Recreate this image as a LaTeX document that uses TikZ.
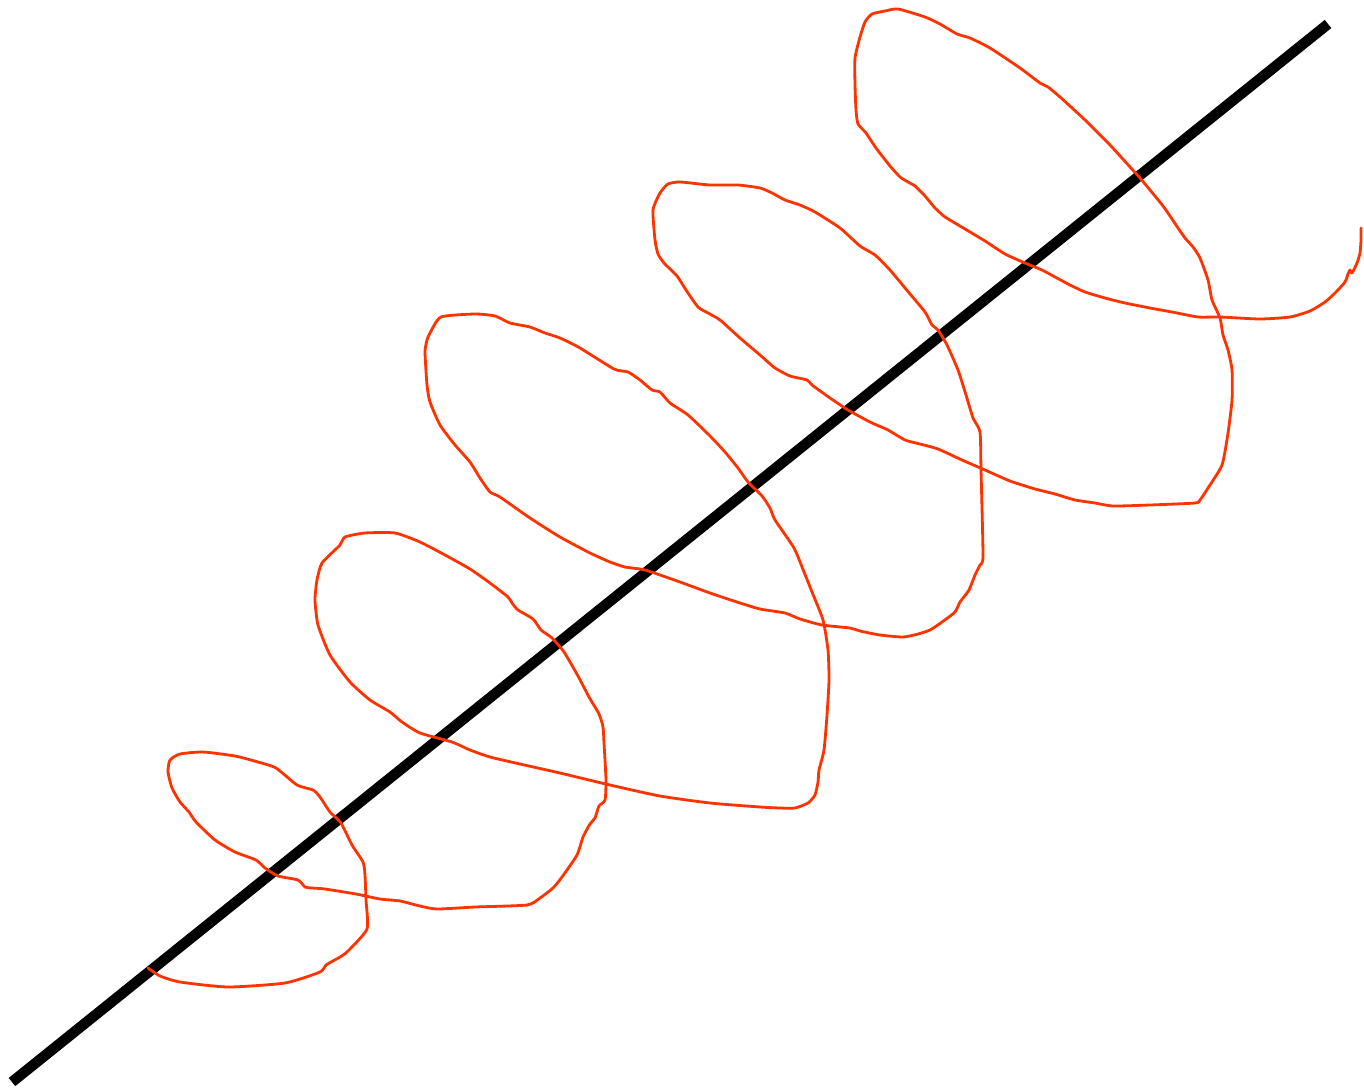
\documentclass[tikz,border=0pt]{standalone}
\definecolor{spiral}{HTML}{FF3300}
\begin{document}
\begin{tikzpicture}[x=1pt,y=-1pt,
  axisline/.style={line width=10.5pt,black},
  spiralline/.style={line width=2.8pt,spiral,line join=round,line cap=round}]
\useasboundingbox (0,0) rectangle (1364,1087);
\coordinate (a) at (12,1082);
\coordinate (b) at (1328,24);
\draw[axisline] (a) -- (b);
\draw[spiralline] plot[smooth,tension=0.35] coordinates {
(148,968) (160,976) (180,982) (228,987) (285,983) (320,972) (326,965) (340,957) (348,951) (367,929) (366,900) (365,875) (363,862) (352,845) (341,823) (330,812) (320,797) (313,790) (297,785) (276,768) (258,762) (235,756) (203,752) (180,754) (170,760) (168,772) (172,788) (180,802) (189,812) (196,822) (215,840) (235,852) (256,860) (265,868) (278,876) (298,880) (305,887) (312,888) (325,889) (356,894) (380,899) (400,901) (420,906) (437,909) (475,907) (527,905) (540,898) (553,888) (562,877) (577,855) (583,837) (590,824) (595,818) (599,806) (605,800) (606,780) (604,743) (603,727) (599,714) (589,697) (578,676) (564,652) (552,638) (541,630) (533,619) (518,610) (512,603) (508,597) (490,583) (470,569) (445,555) (420,542) (395,533) (365,533) (345,537) (340,545) (322,563) (317,580) (315,600) (318,625) (330,655) (350,682) (370,700) (390,712) (402,722) (420,733) (452,742) (470,750) (490,757) (520,764) (560,773) (610,785) (660,796) (710,803) (760,807) (780,808) (795,808) (808,803) (815,795) (818,782) (819,770) (824,750) (827,715) (829,680) (828,650) (823,620) (812,592) (804,572) (794,548) (775,520) (770,508) (762,496) (748,482) (738,468) (725,452) (710,436) (688,415) (670,403) (660,392) (652,390) (640,380) (628,372) (614,369) (580,348) (560,338) (545,333) (530,327) (510,323) (495,316) (475,314) (441,317) (430,333) (427,340) (425,352) (427,385) (430,402) (440,425) (455,445) (470,462) (480,478) (490,492) (500,497) (530,518) (560,537) (590,553) (610,562) (625,567) (645,570) (680,582) (710,593) (740,603) (760,609) (785,613) (800,619) (822,625) (850,628) (860,631) (880,635) (903,637) (918,634) (930,630) (942,622) (955,612) (960,602) (969,590) (975,575) (980,565) (983,556) (981,470) (980,432) (973,418) (966,395) (958,370) (947,345) (938,330) (932,325) (925,312) (905,288) (890,270) (875,255) (860,246) (840,228) (815,212) (800,205) (785,200) (772,193) (760,188) (738,185) (710,185) (680,182) (668,184) (660,193) (653,210) (655,240) (658,254) (664,263) (677,276) (686,290) (698,307) (708,313) (720,320) (740,338) (760,355) (775,368) (790,376) (807,380) (812,385) (830,398) (848,410) (870,422) (888,430) (905,440) (920,444) (938,449) (962,460) (985,470) (1010,481) (1035,489) (1055,494) (1075,500) (1095,503) (1113,506) (1150,505) (1195,503) (1200,500) (1208,488) (1222,465) (1228,433) (1232,400) (1232,370) (1228,350) (1223,335) (1220,318) (1212,300) (1208,280) (1200,258) (1193,247) (1185,238) (1178,228) (1163,206) (1140,178) (1130,167) (1110,145) (1085,120) (1060,97) (1048,87) (1040,83) (1020,68) (990,48) (970,38) (957,34) (940,24) (925,17) (898,9) (885,11) (872,14) (865,22) (860,37) (855,58) (855,85) (856,110) (858,124) (866,133) (876,148) (890,166) (900,177) (908,182) (915,186) (925,196) (935,208) (945,217) (960,226) (985,241) (1005,254) (1025,263) (1042,270) (1055,277) (1070,285) (1085,292) (1105,298) (1125,303) (1150,308) (1172,312) (1198,317) (1220,317) (1260,319) (1290,317) (1310,311) (1325,302) (1335,293) (1345,282) (1348,274) (1350,270) (1352,273) (1357,263) (1360,253) (1361,240) (1361,228)
};
\end{tikzpicture}
\end{document}
